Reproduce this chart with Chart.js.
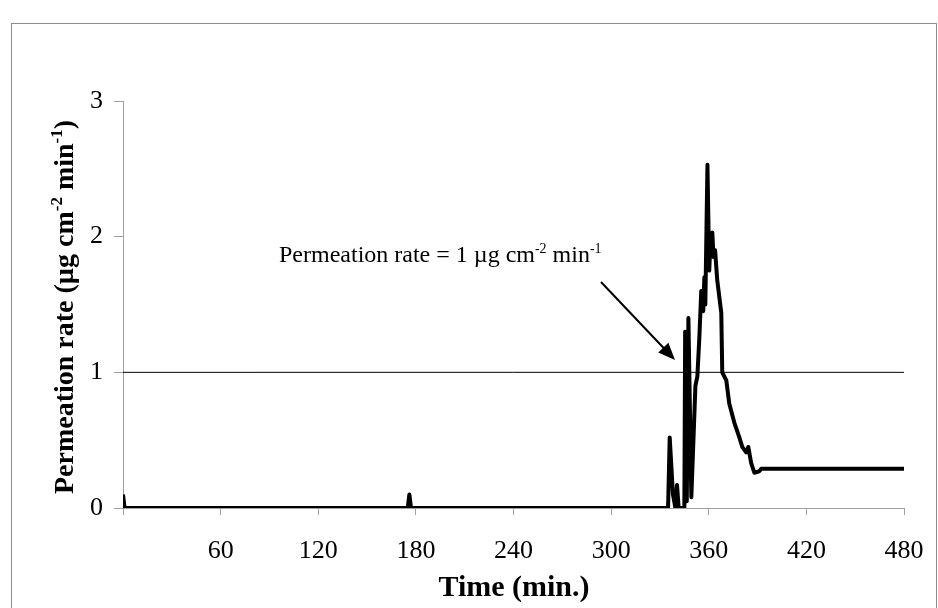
<!DOCTYPE html>
<html>
<head>
<meta charset="utf-8">
<script src="https://cdn.jsdelivr.net/npm/chart.js@4.4.1/dist/chart.umd.min.js"></script>
<style>
  html, body { margin: 0; padding: 0; background: #fff; overflow: hidden; }
  #wrap { width: 938px; height: 608px; }
</style>
</head>
<body>
<div id="wrap"><canvas id="chart" width="938" height="608"></canvas></div>
<script>
// time (min.) and permeation rate
const times = [0, 1, 175, 176, 177, 335, 336, 338, 339.5, 340.5, 341.5, 345, 345.5, 346.5, 347.5,
  349.3, 351.8, 353, 354.2, 355.4, 356.6, 357.3, 357.9, 359.2, 360.3, 361, 362.2, 362.9, 363.9,
  365.2, 367.7, 368.3, 370.8, 372.6, 375.7, 378.8, 380.6, 383, 384.3, 386.1, 388, 391, 392.3, 480];
const rates = [0.1, 0, 0, 0.1, 0, 0, 0.52, 0.1, 0, 0.17, 0, 0, 1.3, 0.05, 1.4,
  0.08, 0.9, 0.97, 1.25, 1.6, 1.45, 1.7, 1.5, 2.53, 1.75, 1.95, 2.03, 1.85, 1.9,
  1.68, 1.44, 1.0, 0.94, 0.77, 0.63, 0.52, 0.45, 0.41, 0.45, 0.33, 0.26, 0.27, 0.29, 0.29];

// threshold line, 1 µg cm-2 min-1
const thresholdTimes = [0, 480];
const thresholdRates = [1, 1];

const xTicks = [0, 60, 120, 180, 240, 300, 360, 420, 480];
const yTicks = [0, 1, 2, 3];

const serif = "'Liberation Serif', 'Times New Roman', serif";
const axisGray = '#a0a0a0';

// draws text pieces, some of them raised as superscripts
function richText(ctx, parts, x, y, size, weight, align) {
  const supSize = Math.round(size * 0.6);
  let total = 0;
  parts.forEach(p => {
    ctx.font = weight + ' ' + (p[1] ? supSize : size) + 'px ' + serif;
    total += ctx.measureText(p[0]).width;
  });
  let cx = align === 'center' ? x - total / 2 : x;
  ctx.textBaseline = 'alphabetic';
  ctx.textAlign = 'left';
  parts.forEach(p => {
    ctx.font = weight + ' ' + (p[1] ? supSize : size) + 'px ' + serif;
    ctx.fillText(p[0], cx, p[1] ? y - size * 0.38 : y);
    cx += ctx.measureText(p[0]).width;
  });
}

const extras = {
  id: 'extras',
  beforeDraw(c) {
    const ctx = c.ctx;
    ctx.save();
    ctx.fillStyle = '#fff';
    ctx.fillRect(0, 0, c.width, c.height);
    ctx.strokeStyle = '#8c8c8c';
    ctx.lineWidth = 1;
    ctx.strokeRect(11.5, 23.5, 925, 600);
    ctx.restore();
  },
  afterDraw(c) {
    const ctx = c.ctx;
    ctx.save();
    ctx.fillStyle = '#000';

    // x axis title
    ctx.font = 'bold 30px ' + serif;
    ctx.textAlign = 'center';
    ctx.textBaseline = 'middle';
    ctx.fillText('Time (min.)', 514, 588);

    // y axis title, rotated
    ctx.save();
    ctx.translate(73, 307);
    ctx.rotate(-Math.PI / 2);
    richText(ctx, [['Permeation rate (µg cm'], ['-2', true], [' min'], ['-1', true], [')']], 0, 0, 28, 'bold', 'center');
    ctx.restore();

    // annotation
    richText(ctx, [['Permeation rate = 1 µg cm'], ['-2', true], [' min'], ['-1', true]], 279, 262, 24, 'normal', 'left');

    // arrow towards the threshold crossing
    const x1 = 601, y1 = 282, x2 = 675, y2 = 360;
    const ang = Math.atan2(y2 - y1, x2 - x1);
    ctx.strokeStyle = '#000';
    ctx.lineWidth = 2;
    ctx.beginPath();
    ctx.moveTo(x1, y1);
    ctx.lineTo(x2 - 12 * Math.cos(ang), y2 - 12 * Math.sin(ang));
    ctx.stroke();
    ctx.beginPath();
    ctx.moveTo(x2, y2);
    ctx.lineTo(x2 - 17 * Math.cos(ang) + 7 * Math.sin(ang), y2 - 17 * Math.sin(ang) - 7 * Math.cos(ang));
    ctx.lineTo(x2 - 17 * Math.cos(ang) - 7 * Math.sin(ang), y2 - 17 * Math.sin(ang) + 7 * Math.cos(ang));
    ctx.closePath();
    ctx.fill();
    ctx.restore();
  }
};

const ctx = document.getElementById('chart').getContext('2d');
const chart = new Chart(ctx, {
  type: 'line',
  data: {
    datasets: [
      {
        label: 'Threshold',
        data: thresholdTimes.map((t, i) => ({ x: t, y: thresholdRates[i] })),
        borderColor: '#000',
        borderWidth: 1,
        pointRadius: 0
      },
      {
        label: 'Permeation rate',
        data: times.map((t, i) => ({ x: t, y: rates[i] })),
        borderColor: '#000',
        borderWidth: 4,
        borderJoinStyle: 'round',
        pointRadius: 0,
        tension: 0
      }
    ]
  },
  options: {
    responsive: false,
    animation: false,
    layout: { padding: { top: 101, right: 34, left: 0, bottom: 0 } },
    plugins: { legend: { display: false }, tooltip: { enabled: false } },
    scales: {
      x: {
        type: 'linear',
        min: 0,
        max: 480,
        afterBuildTicks: s => { s.ticks = xTicks.map(v => ({ value: v })); },
        afterFit: s => { s.height = 100; s.paddingLeft = 0; s.paddingRight = 0; },
        ticks: {
          callback: v => (v === 0 ? '' : v),
          color: '#000',
          font: { family: serif, size: 26 },
          padding: 21,
          maxRotation: 0
        },
        grid: { drawOnChartArea: false, tickLength: 7, color: axisGray },
        border: { color: axisGray }
      },
      y: {
        min: 0,
        max: 3,
        afterBuildTicks: s => { s.ticks = yTicks.map(v => ({ value: v })); },
        afterFit: s => { s.width = 123; },
        ticks: {
          color: '#000',
          font: { family: serif, size: 26 },
          padding: 11
        },
        grid: { drawOnChartArea: false, tickLength: 9, color: axisGray },
        border: { color: axisGray }
      }
    }
  },
  plugins: [extras]
});
</script>
</body>
</html>
